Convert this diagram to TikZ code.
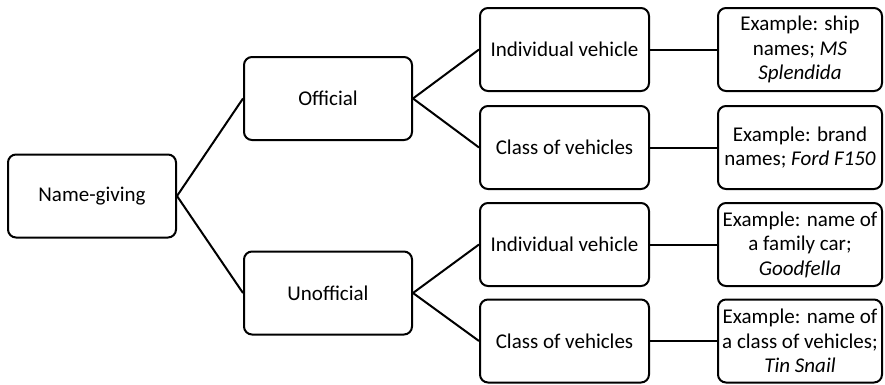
\documentclass[tikz,border=0pt]{standalone}
\usepackage{fontspec}
\setmainfont{Carlito}
\begin{document}
\begin{tikzpicture}[x=1pt,y=-1pt,
  box/.style={draw=black, line width=2pt, rounded corners=8pt, fill=white,
    minimum height=83pt, inner sep=0pt, align=center,
    font=\fontsize{21}{24.5}\selectfont},
  lev/.style={box, minimum width=168pt},
  exbox/.style={box, minimum width=164pt},
  conn/.style={line width=2pt}]
\useasboundingbox (0,0) rectangle (885,384);
\node[lev] (ng) at (92,196) {Name-giving};
\node[lev] (off) at (328,98.5) {Official};
\node[lev] (unoff) at (328,293) {Unofficial};
\node[lev, minimum width=169pt] (iv1) at (564.5,49.5) {Individual vehicle};
\node[lev, minimum width=169pt] (cv1) at (564.5,147.5) {Class of vehicles};
\node[lev, minimum width=169pt] (iv2) at (564.5,244.5) {Individual vehicle};
\node[lev, minimum width=169pt] (cv2) at (564.5,341) {Class of vehicles};
\node[exbox] (ex1) at (800,49.5) {Example: ship\\names; \textit{MS}\\\textit{Splendida}};
\node[exbox] (ex2) at (800,147.5) {Example: brand\\names; \textit{Ford F150}};
\node[exbox] (ex3) at (800,244.5) {Example: name of\\a family car;\\\textit{Goodfella}};
\node[exbox] (ex4) at (800,341) {Example: name of\\a class of vehicles;\\\textit{Tin Snail}};
\draw[conn] (ng.east) -- (off.west);
\draw[conn] (ng.east) -- (unoff.west);
\draw[conn] (off.east) -- (iv1.west);
\draw[conn] (off.east) -- (cv1.west);
\draw[conn] (unoff.east) -- (iv2.west);
\draw[conn] (unoff.east) -- (cv2.west);
\draw[conn] (iv1) -- (ex1);
\draw[conn] (cv1) -- (ex2);
\draw[conn] (iv2) -- (ex3);
\draw[conn] (cv2) -- (ex4);
\end{tikzpicture}
\end{document}
